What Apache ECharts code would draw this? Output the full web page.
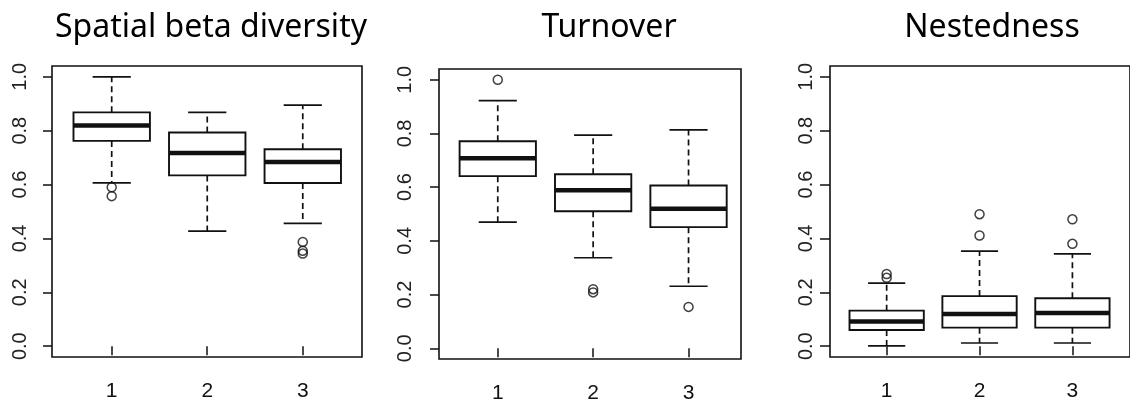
<!DOCTYPE html>
<html>
<head>
<meta charset="utf-8">
<script src="https://cdn.jsdelivr.net/npm/echarts@6/dist/echarts.min.js"></script>
<style>
html,body{margin:0;padding:0;background:#fff;}
#chart{width:1130px;height:404px;}
</style>
</head>
<body>
<div id="chart"></div>
<script>
// ---- data ----
const categories = ['1', '2', '3'];
const titles = ['Spatial beta diversity', 'Turnover', 'Nestedness'];
const yTickValues = [0, 0.2, 0.4, 0.6, 0.8, 1.0];
// [lower whisker, Q1, median, Q3, upper whisker]
const spatialStats = [
  [0.606, 0.762, 0.819, 0.868, 1.000],
  [0.427, 0.634, 0.717, 0.793, 0.868],
  [0.456, 0.606, 0.684, 0.731, 0.895]
];
const spatialOutliers = [[1, 0.590], [1, 0.557], [3, 0.387], [3, 0.354], [3, 0.344]];
const turnoverStats = [
  [0.470, 0.641, 0.708, 0.771, 0.922],
  [0.337, 0.510, 0.588, 0.648, 0.794],
  [0.231, 0.451, 0.520, 0.606, 0.813]
];
const turnoverOutliers = [[1, 1.000], [2, 0.220], [2, 0.208], [3, 0.154]];
const nestStats = [
  [0.001, 0.060, 0.092, 0.132, 0.234],
  [0.012, 0.069, 0.120, 0.186, 0.353],
  [0.012, 0.069, 0.123, 0.178, 0.343]
];
const nestOutliers = [[1, 0.268], [1, 0.254], [2, 0.490], [2, 0.411], [3, 0.471], [3, 0.380]];

const allStats = [spatialStats, turnoverStats, nestStats];
const allOutliers = [spatialOutliers, turnoverOutliers, nestOutliers];

// ---- layout ----
const grids = [
  {left: 52, top: 66, width: 310, height: 291},
  {left: 439, top: 69, width: 302, height: 291},
  {left: 830, top: 66, width: 309, height: 291}
];
const xRanges = [[0.375, 3.62], [0.384, 3.55], [0.39, 3.62]];
const yLabelMargins = [22, 24, 14];
const yTickLengths = [9, 9, 10];
const titleCenters = [206, 604, 987];
const INK = '#111';

function renderBox(params, api) {
  const x = api.value(0);
  const lo = api.value(1), q1 = api.value(2), med = api.value(3), q3 = api.value(4), hi = api.value(5);
  const c = (xx, yy) => api.coord([xx, yy]);
  const pLo = c(x, lo), pQ1 = c(x, q1), pMed = c(x, med), pQ3 = c(x, q3), pHi = c(x, hi);
  const bl = c(x - 0.4, 0)[0], br = c(x + 0.4, 0)[0];
  const cl = c(x - 0.2, 0)[0], cr = c(x + 0.2, 0)[0];
  const cx = pMed[0];
  const solid = {stroke: INK, lineWidth: 1.7, fill: null};
  const dashed = {stroke: INK, lineWidth: 1.7, lineDash: [6, 4], fill: null};
  return {
    type: 'group',
    children: [
      {type: 'line', shape: {x1: cx, y1: pQ3[1], x2: cx, y2: pHi[1]}, style: dashed},
      {type: 'line', shape: {x1: cx, y1: pQ1[1], x2: cx, y2: pLo[1]}, style: dashed},
      {type: 'line', shape: {x1: cl, y1: pHi[1], x2: cr, y2: pHi[1]}, style: solid},
      {type: 'line', shape: {x1: cl, y1: pLo[1], x2: cr, y2: pLo[1]}, style: solid},
      {type: 'rect', shape: {x: bl, y: pQ3[1], width: br - bl, height: pQ1[1] - pQ3[1]}, style: {stroke: INK, lineWidth: 1.9, fill: '#fff'}},
      {type: 'line', shape: {x1: bl, y1: pMed[1], x2: br, y2: pMed[1]}, style: {stroke: INK, lineWidth: 4.5}}
    ]
  };
}

const option = {
  animation: false,
  backgroundColor: '#fff',
  title: titles.map((t, i) => ({
    text: t,
    left: titleCenters[i],
    top: 7,
    textAlign: 'center',
    textStyle: {fontFamily: 'Noto Sans', fontWeight: 'normal', fontSize: 32, color: '#000'}
  })),
  grid: grids.map(g => Object.assign({show: true, borderColor: INK, borderWidth: 1.6, backgroundColor: 'transparent', containLabel: false}, g)),
  xAxis: grids.map((g, i) => ({
    type: 'value', gridIndex: i, min: xRanges[i][0], max: xRanges[i][1],
    splitLine: {show: false},
    axisLine: {show: false},
    axisTick: {show: true, length: 9, lineStyle: {color: INK, width: 1.5}, customValues: [1, 2, 3]},
    axisLabel: {
      show: true, margin: 24, color: '#111', fontFamily: 'Liberation Sans', fontSize: 21,
      verticalAlign: 'top',
      customValues: [1, 2, 3],
      formatter: v => categories[Math.round(v) - 1]
    }
  })),
  yAxis: grids.map((g, i) => ({
    type: 'value', gridIndex: i, min: -0.04, max: 1.04,
    splitLine: {show: false},
    axisLine: {show: false},
    axisTick: {show: true, length: yTickLengths[i], lineStyle: {color: INK, width: 1.5}, customValues: yTickValues},
    axisLabel: {
      show: true, margin: yLabelMargins[i], rotate: 90, color: '#222', fontFamily: 'Liberation Sans', fontSize: 20,
      customValues: yTickValues,
      formatter: v => v.toFixed(1)
    }
  })),
  series: []
};

allStats.forEach((stats, i) => {
  option.series.push({
    type: 'custom',
    xAxisIndex: i, yAxisIndex: i,
    renderItem: renderBox,
    encode: {x: 0, y: [1, 2, 3, 4, 5]},
    data: stats.map((s, k) => [k + 1].concat(s)),
    z: 2
  });
  option.series.push({
    type: 'scatter',
    xAxisIndex: i, yAxisIndex: i,
    symbol: 'circle',
    symbolSize: 9,
    itemStyle: {color: 'transparent', borderColor: INK, borderWidth: 1.5},
    data: allOutliers[i],
    z: 3
  });
});

const chart = echarts.init(document.getElementById('chart'), null, {renderer: 'canvas'});
chart.setOption(option);
</script>
</body>
</html>
